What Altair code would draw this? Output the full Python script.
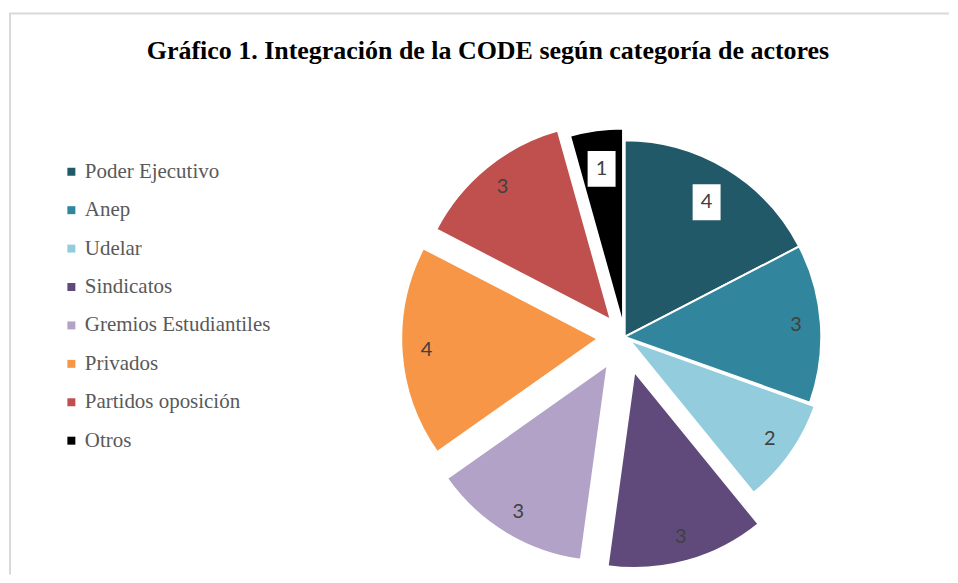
import altair as alt
import pandas as pd

# ---- data ----
categories = ["Poder Ejecutivo", "Anep", "Udelar", "Sindicatos",
              "Gremios Estudiantiles", "Privados", "Partidos oposición", "Otros"]
values = [4, 3, 2, 3, 3, 4, 3, 1]
title_text = "Gráfico 1. Integración de la CODE según categoría de actores"

# ---- style ----
colors = ["#215968", "#31859C", "#93CDDD", "#604A7B",
          "#B3A2C7", "#F79646", "#C0504D", "#000000"]
explode = [0, 0, 6, 36, 33, 27, 22, 12]      # px offset of each slice
boxed = [1, 0, 0, 0, 0, 0, 0, 1]             # label drawn on a white box

W, H = 942, 567
CX, CY, R = 617, 329, 197

df = pd.DataFrame({"cat": categories, "value": values,
                   "explode": explode, "boxed": boxed,
                   "order": list(range(len(categories)))})

base = (
    alt.Chart(df)
    .transform_window(cum="sum(value)", sort=[alt.SortField("order")], frame=[None, 0])
    .transform_joinaggregate(total="sum(value)")
    .transform_calculate(t1="datum.cum/datum.total*2*PI")
    .transform_calculate(t0="(datum.cum-datum.value)/datum.total*2*PI")
    .transform_calculate(mid="(datum.t0+datum.t1)/2")
    .transform_calculate(cx=f"{CX}+datum.explode*sin(datum.mid)")
    .transform_calculate(cy=f"{CY}-datum.explode*cos(datum.mid)")
    .transform_calculate(lr="datum.boxed ? 158 : 172")
    .transform_calculate(lx="datum.cx+datum.lr*sin(datum.mid)")
    .transform_calculate(ly="datum.cy-datum.lr*cos(datum.mid)")
)

arcs = base.mark_arc(radius=R, stroke="white", strokeWidth=2).encode(
    x=alt.X("cx:Q", scale=None, axis=None),
    y=alt.Y("cy:Q", scale=None, axis=None),
    theta=alt.Theta("t0:Q", scale=None),
    theta2="t1:Q",
    color=alt.Color(
        "cat:N",
        scale=alt.Scale(domain=categories, range=colors),
        sort=categories,
        legend=alt.Legend(
            title=None, orient="none", legendX=52, legendY=153,
            symbolType="square", symbolSize=64, symbolStrokeWidth=0,
            labelFont="Liberation Serif", labelFontSize=21, labelLimit=400,
            labelColor="#595959", rowPadding=16.5, labelOffset=3, padding=0,
        ),
    ),
)

boxes = (
    base.transform_filter("datum.boxed == 1")
    .transform_calculate(bx0="datum.lx-14", bx1="datum.lx+14",
                         by0="datum.ly-18", by1="datum.ly+18")
    .mark_rect(fill="white")
    .encode(
        x=alt.X("bx0:Q", scale=None, axis=None),
        x2="bx1:Q",
        y=alt.Y("by0:Q", scale=None, axis=None),
        y2="by1:Q",
    )
)

labels = base.mark_text(font="Lato", fontSize=20, color="#404040",
                        align="center", baseline="middle").encode(
    x=alt.X("lx:Q", scale=None, axis=None),
    y=alt.Y("ly:Q", scale=None, axis=None),
    text="value:Q",
)

one = alt.Data(values=[{"t": title_text}])
frame_top = alt.Chart(one).mark_rule(color="#d9d9d9", strokeWidth=2).encode(
    x=alt.value(0), x2=alt.value(W), y=alt.value(5))
frame_left = alt.Chart(one).mark_rule(color="#d9d9d9", strokeWidth=2).encode(
    x=alt.value(1), y=alt.value(5), y2=alt.value(H))
title = alt.Chart(one).mark_text(font="Liberation Serif", fontSize=26,
                                 fontWeight="bold", color="#000000",
                                 align="center", baseline="alphabetic").encode(
    x=alt.value(480), y=alt.value(51), text="t:N")

chart = alt.layer(frame_top, frame_left, title, arcs, boxes, labels).properties(
    width=W, height=H, padding=0
).configure_view(stroke=None)

chart.save("out.html", embed_options={"renderer": "svg", "actions": False})
